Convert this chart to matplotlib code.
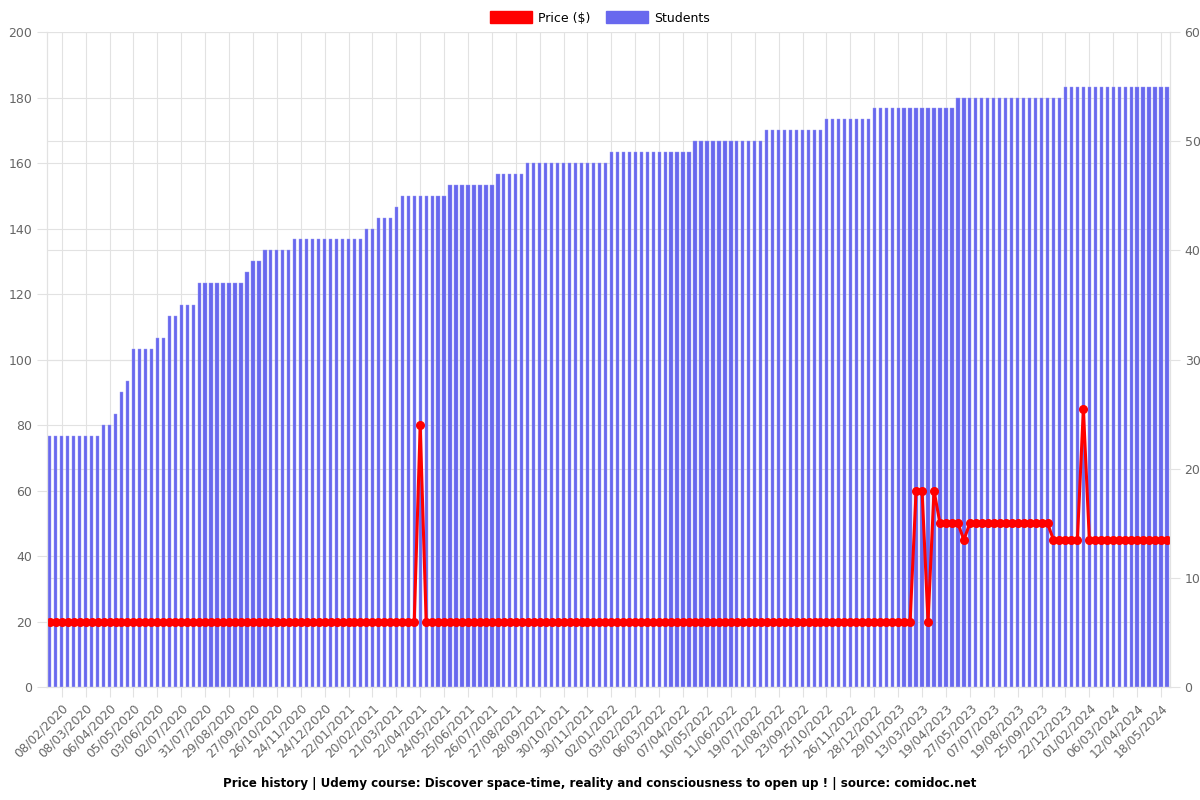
import numpy as np
import matplotlib
matplotlib.use("Agg")
import matplotlib.pyplot as plt
from matplotlib.patches import Patch


# Values
students = [
    23, 23, 23, 23, 23, 23, 23, 23, 23, 24, 24, 25, 27, 28, 31, 31, 31, 31, 32, 32,
    34, 34, 35, 35, 35, 37, 37, 37, 37, 37, 37, 37, 37, 38, 39, 39, 40, 40, 40, 40,
    40, 41, 41, 41, 41, 41, 41, 41, 41, 41, 41, 41, 41, 42, 42, 43, 43, 43, 44, 45,
    45, 45, 45, 45, 45, 45, 45, 46, 46, 46, 46, 46, 46, 46, 46, 47, 47, 47, 47, 47,
    48, 48, 48, 48, 48, 48, 48, 48, 48, 48, 48, 48, 48, 48, 49, 49, 49, 49, 49, 49,
    49, 49, 49, 49, 49, 49, 49, 49, 50, 50, 50, 50, 50, 50, 50, 50, 50, 50, 50, 50,
    51, 51, 51, 51, 51, 51, 51, 51, 51, 51, 52, 52, 52, 52, 52, 52, 52, 52, 53, 53,
    53, 53, 53, 53, 53, 53, 53, 53, 53, 53, 53, 53, 54, 54, 54, 54, 54, 54, 54, 54,
    54, 54, 54, 54, 54, 54, 54, 54, 54, 54, 55, 55, 55, 55, 55, 55, 55, 55, 55, 55,
    55, 55, 55, 55, 55, 55, 55, 55,
]

price = [
    20, 20, 20, 20, 20, 20, 20, 20, 20, 20, 20, 20, 20, 20, 20, 20, 20, 20, 20, 20,
    20, 20, 20, 20, 20, 20, 20, 20, 20, 20, 20, 20, 20, 20, 20, 20, 20, 20, 20, 20,
    20, 20, 20, 20, 20, 20, 20, 20, 20, 20, 20, 20, 20, 20, 20, 20, 20, 20, 20, 20,
    20, 20, 80, 20, 20, 20, 20, 20, 20, 20, 20, 20, 20, 20, 20, 20, 20, 20, 20, 20,
    20, 20, 20, 20, 20, 20, 20, 20, 20, 20, 20, 20, 20, 20, 20, 20, 20, 20, 20, 20,
    20, 20, 20, 20, 20, 20, 20, 20, 20, 20, 20, 20, 20, 20, 20, 20, 20, 20, 20, 20,
    20, 20, 20, 20, 20, 20, 20, 20, 20, 20, 20, 20, 20, 20, 20, 20, 20, 20, 20, 20,
    20, 20, 20, 20, 20, 60, 60, 20, 60, 50, 50, 50, 50, 45, 50, 50, 50, 50, 50, 50,
    50, 50, 50, 50, 50, 50, 50, 50, 45, 45, 45, 45, 45, 85, 45, 45, 45, 45, 45, 45,
    45, 45, 45, 45, 45, 45, 45, 45,
]

tick_labels = [
    "08/02/2020", "08/03/2020", "06/04/2020", "05/05/2020", "03/06/2020", "02/07/2020",
    "31/07/2020", "29/08/2020", "27/09/2020", "26/10/2020", "24/11/2020", "24/12/2020",
    "22/01/2021", "20/02/2021", "21/03/2021", "22/04/2021", "24/05/2021", "25/06/2021",
    "26/07/2021", "27/08/2021", "28/09/2021", "30/10/2021", "30/11/2021", "02/01/2022",
    "03/02/2022", "06/03/2022", "07/04/2022", "10/05/2022", "11/06/2022", "19/07/2022",
    "21/08/2022", "23/09/2022", "25/10/2022", "26/11/2022", "28/12/2022", "29/01/2023",
    "13/03/2023", "19/04/2023", "27/05/2023", "07/07/2023", "19/08/2023", "25/09/2023",
    "22/12/2023", "01/02/2024", "06/03/2024", "12/04/2024", "18/05/2024",
]

title = ("Price history | Udemy course: Discover space-time, reality and "
         "consciousness to open up ! | source: comidoc.net")

blue = "#6868ee"
red = "#ff0000"
grey = "#666666"
gridc = "#e2e2e2"

x = np.arange(len(students))
tick_pos = x[2::4]

fig = plt.figure(figsize=(12, 8), dpi=100)
ax = fig.add_axes([0.039, 0.141, 0.936, 0.819])
ax2 = ax.twinx()

ax2.bar(x, students, width=0.55, color=blue, edgecolor="#9a9af5", linewidth=0.3)
ax.plot(x, price, color=red, linewidth=2.2, marker="o", markersize=5.5)

ax.set_zorder(ax2.get_zorder() + 1)
ax.patch.set_visible(False)

ax.set_xlim(-0.5, len(students) - 0.5)
ax.set_ylim(0, 200)
ax2.set_ylim(0, 60)
ax.set_yticks(np.arange(0, 201, 20))
ax2.set_yticks(np.arange(0, 61, 10))

ax.set_xticks(tick_pos)
ax.set_xticklabels(tick_labels, rotation=45, ha="right", rotation_mode="anchor")

# grid lines, drawn on the back axes so they stay behind the bars
ax2.set_axisbelow(True)
for t in np.arange(0, 201, 20):
    ax2.axhline(t * 60 / 200, color=gridc, linewidth=0.8, zorder=0)
ax2.grid(axis="y", color=gridc, linewidth=0.8)
for p in tick_pos:
    ax2.axvline(p, color=gridc, linewidth=0.8, zorder=0)

for a in (ax, ax2):
    a.tick_params(colors=grey, labelsize=9, length=7, width=0.8)
    a.tick_params(axis="x", labelsize=8.7)
    for s in a.spines.values():
        s.set_color(gridc)
    a.spines["top"].set_visible(False)
for lab in ax.get_xticklabels() + ax.get_yticklabels() + ax2.get_yticklabels():
    lab.set_color(grey)
ax.tick_params(axis="both", color=gridc)
ax2.tick_params(axis="both", color=gridc)

handles = [Patch(facecolor=red, edgecolor=red), Patch(facecolor=blue, edgecolor=blue)]
fig.legend(handles, ["Price ($)", "Students"], loc="upper center", ncol=2,
           bbox_to_anchor=(0.5, 1.0), frameon=False, fontsize=9,
           handlelength=3.4, handleheight=1.1, columnspacing=1.2, handletextpad=0.5)

fig.text(0.5, 0.013, title, ha="center", va="bottom", fontsize=8.6, fontweight="bold")

fig.savefig("out.png", dpi=100)
